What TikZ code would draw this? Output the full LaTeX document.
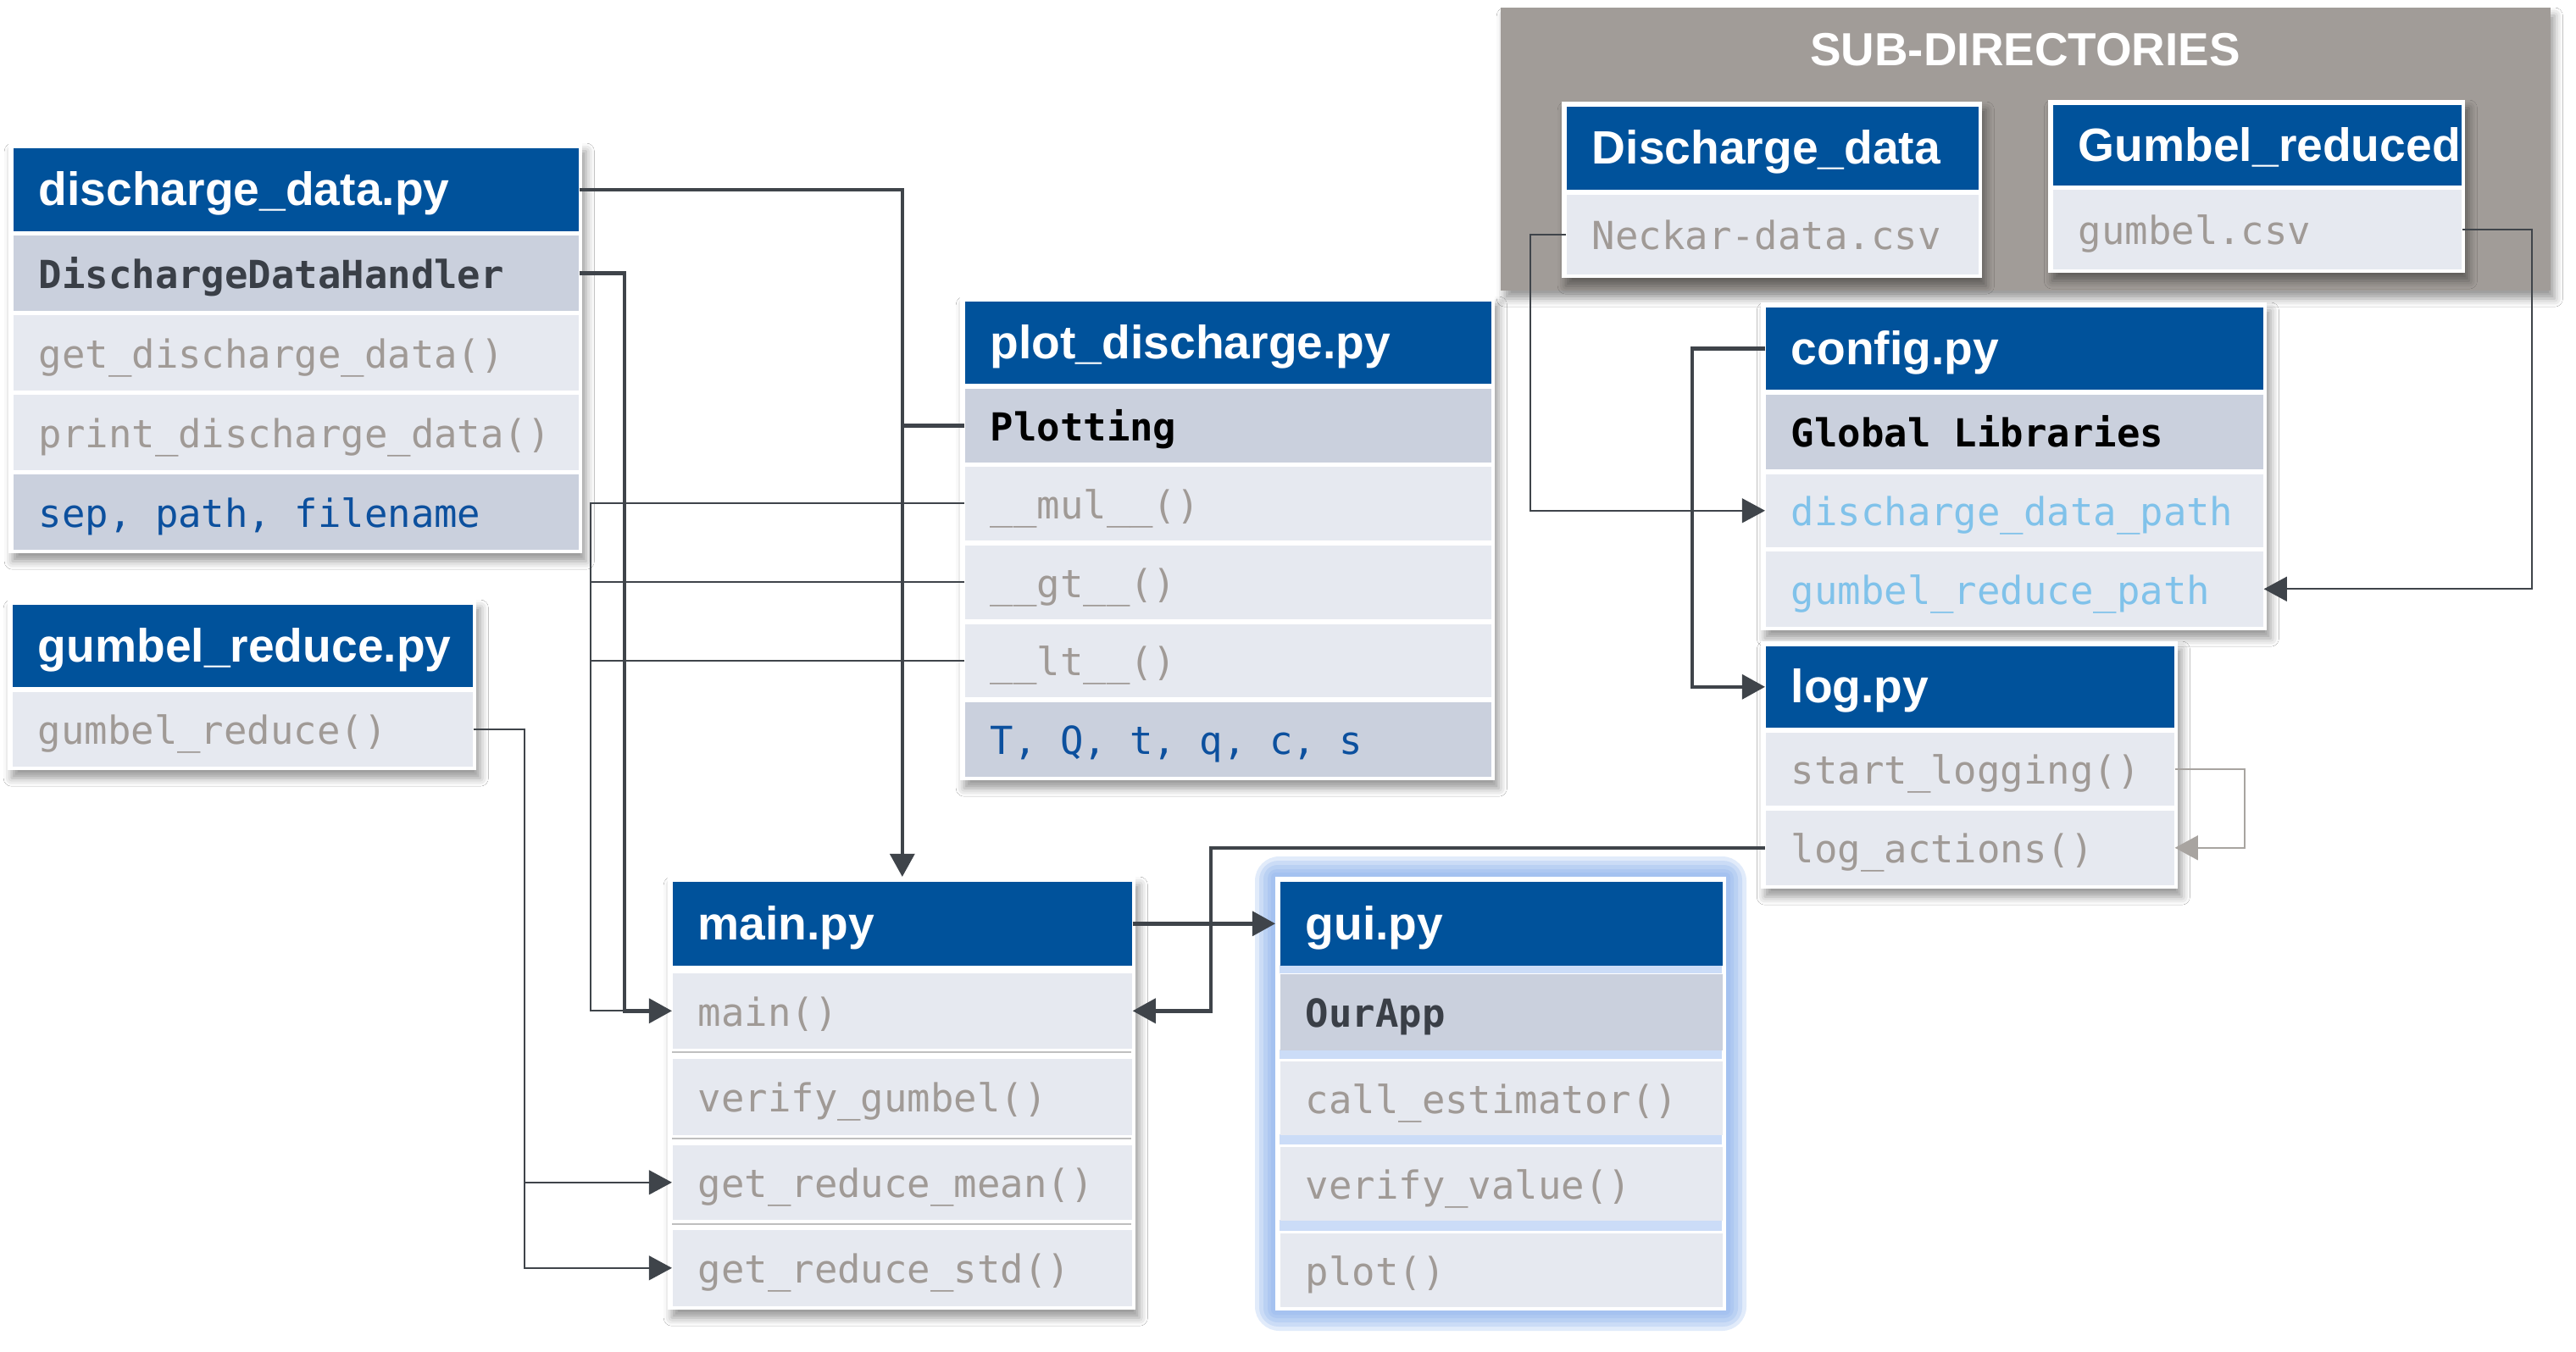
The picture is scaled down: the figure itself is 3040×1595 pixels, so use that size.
\documentclass[tikz,border=0pt]{standalone}
\usepackage{fontspec}
\setmainfont{Liberation Sans}
\newfontfamily\codefont{DejaVu Sans Mono}
\usetikzlibrary{arrows.meta,shadows.blur}

\definecolor{hdr}{RGB}{0,82,155}
\definecolor{rowL}{RGB}{230,233,240}
\definecolor{rowD}{RGB}{202,208,221}
\definecolor{txtG}{RGB}{160,154,150}
\definecolor{txtK}{RGB}{58,63,71}
\definecolor{txtB}{RGB}{12,80,158}
\definecolor{txtC}{RGB}{128,194,234}
\definecolor{subg}{RGB}{161,156,152}
\definecolor{conn}{RGB}{63,68,74}
\definecolor{loopg}{RGB}{168,164,160}
\definecolor{glow}{RGB}{140,178,238}

\newcommand\mkcell[8]{%
  \pgfmathsetmacro\mycw{(#6-#4)*0.25}%
  \pgfmathsetmacro\mych{(#7-#5)*0.25}%
  \node[rectangle, fill=#2, inner sep=0pt, minimum width=\mycw pt, minimum height=\mych pt, anchor=north west] (#1) at (#4,#5) {};
  \node[#3, anchor=west, inner sep=0pt] (#1t) at ([xshift=7.5pt]#1.west) {#8};
}
\newcommand\mkbox[5]{%
  \fill[white, boxshadow] (#2-5,#3-5) rectangle (#4+5,#5+5);
  \coordinate (#1) at (#2,#3);
}

\tikzset{
  htext/.style={text=white, font=\fontsize{13.8}{16}\selectfont\bfseries, text height=9.4pt, text depth=0pt},
  ctext/.style={text=txtG, font=\fontsize{11.4}{14}\selectfont\codefont, text height=9pt, text depth=0pt},
  cbold/.style={ctext, font=\fontsize{11.4}{14}\selectfont\codefont\bfseries},
  boxshadow/.style={blur shadow={shadow xshift=1.2pt, shadow yshift=-2.4pt, shadow blur radius=2.4pt, shadow opacity=40}},
  thickc/.style={draw=conn, line width=1.1pt},
  thinc/.style={draw=conn, line width=0.55pt},
  >={Triangle[length=6.8pt,width=7.2pt]}
}

\begin{document}
\begin{tikzpicture}[x=0.25pt, y=-0.25pt]
\useasboundingbox (0,0) rectangle (3040,1595);
\fill[white] (0,0) rectangle (3040,1595);

% sub-directories group
\fill[subg, boxshadow] (1771,9) rectangle (3010,343);
\node[anchor=base, text=white, font=\fontsize{13.7}{16}\selectfont\bfseries, inner sep=0pt] (subtitle) at (2390,78) {SUB-DIRECTORIES};

% Discharge_data
\mkbox{sdA}{1848}{125}{2334}{323}
\mkcell{sdAH}{hdr}{htext}{1848}{125}{2334}{223}{Discharge\_data}
\mkcell{sdAF}{rowL}{ctext}{1848}{229}{2334}{323}{Neckar-data.csv}

% Gumbel_reduced
\mkbox{sdB}{2422}{123}{2904}{317}
\mkcell{sdBH}{hdr}{htext}{2422}{123}{2904}{218}{Gumbel\_reduced}
\mkcell{sdBF}{rowL}{ctext}{2422}{223}{2904}{317}{gumbel.csv}

% discharge_data.py
\mkbox{dd}{15}{174}{682}{648}
\mkcell{ddH}{hdr}{htext}{15}{174}{682}{272}{discharge\_data.py}
\mkcell{ddC}{rowD}{cbold,text=txtK}{15}{277}{682}{366}{DischargeDataHandler}
\mkcell{ddG}{rowL}{ctext}{15}{371}{682}{460}{get\_discharge\_data()}
\mkcell{ddP}{rowL}{ctext}{15}{465}{682}{554}{print\_discharge\_data()}
\mkcell{ddS}{rowD}{ctext,text=txtB}{15}{559}{682}{648}{sep, path, filename}

% gumbel_reduce.py
\mkbox{gr}{14}{713}{557}{904}
\mkcell{grH}{hdr}{htext}{14}{713}{557}{810}{gumbel\_reduce.py}
\mkcell{grF}{rowL}{ctext}{14}{816}{557}{904}{gumbel\_reduce()}

% plot_discharge.py
\mkbox{pd}{1138}{355}{1759}{916}
\mkcell{pdH}{hdr}{htext}{1138}{355}{1759}{452}{plot\_discharge.py}
\mkcell{pdC}{rowD}{cbold,text=black}{1138}{458}{1759}{545}{Plotting}
\mkcell{pdM}{rowL}{ctext}{1138}{550}{1759}{637}{\_\_mul\_\_()}
\mkcell{pdGt}{rowL}{ctext}{1138}{643}{1759}{730}{\_\_gt\_\_()}
\mkcell{pdLt}{rowL}{ctext}{1138}{736}{1759}{822}{\_\_lt\_\_()}
\mkcell{pdV}{rowD}{ctext,text=txtB}{1138}{828}{1759}{916}{T, Q, t, q, c, s}

% config.py
\mkbox{cf}{2083}{362}{2670}{739}
\mkcell{cfH}{hdr}{htext}{2083}{362}{2670}{459}{config.py}
\mkcell{cfG}{rowD}{cbold,text=black}{2083}{465}{2670}{553}{Global Libraries}
\mkcell{cfD}{rowL}{ctext,text=txtC}{2083}{559}{2670}{645}{discharge\_data\_path}
\mkcell{cfU}{rowL}{ctext,text=txtC}{2083}{650}{2670}{739}{gumbel\_reduce\_path}

% log.py
\mkbox{lg}{2083}{762}{2565}{1044}
\mkcell{lgH}{hdr}{htext}{2083}{762}{2565}{858}{log.py}
\mkcell{lgS}{rowL}{ctext}{2083}{864}{2565}{950}{start\_logging()}
\mkcell{lgA}{rowL}{ctext}{2083}{956}{2565}{1044}{log\_actions()}

% main.py
\mkbox{mn}{793}{1040}{1335}{1541}
\mkcell{mnH}{hdr}{htext}{793}{1040}{1335}{1139}{main.py}
\mkcell{mnM}{rowL}{ctext}{793}{1148}{1335}{1237}{main()}
\mkcell{mnV}{rowL}{ctext}{793}{1249}{1335}{1339}{verify\_gumbel()}
\mkcell{mnR}{rowL}{ctext}{793}{1351}{1335}{1439}{get\_reduce\_mean()}
\mkcell{mnS}{rowL}{ctext}{793}{1451}{1335}{1541}{get\_reduce\_std()}
\foreach \yy in {1242,1344,1445}{
  \draw[black!25, line width=0.6pt] (793,\yy) -- (1335,\yy);
}

% gui.py with glow
\foreach \d in {24,19,14,9,5}{
  \fill[glow, opacity=0.26, rounded corners=\d*0.3pt] (1505-\d,1035-\d) rectangle (2037+\d,1547+\d);
}
\fill[white] (1505,1035) rectangle (2037,1547);
\fill[glow!45] (1510,1139) rectangle (2032,1149);
\fill[glow!45] (1510,1239) rectangle (2032,1250);
\fill[glow!45] (1510,1339) rectangle (2032,1351);
\fill[glow!45] (1510,1440) rectangle (2032,1453);
\coordinate (gu) at (1510,1040);
\mkcell{guH}{hdr}{htext}{1510}{1040}{2032}{1139}{gui.py}
\mkcell{guC}{rowD}{cbold,text=txtK}{1510}{1149}{2032}{1239}{OurApp}
\mkcell{guE}{rowL}{ctext}{1510}{1252}{2032}{1339}{call\_estimator()}
\mkcell{guV}{rowL}{ctext}{1510}{1353}{2032}{1440}{verify\_value()}
\mkcell{guP}{rowL}{ctext}{1510}{1455}{2032}{1542}{plot()}

% bend coordinates
\coordinate (xA) at (737,0);
\coordinate (xB) at (697,0);
\coordinate (xC) at (619,0);
\coordinate (xD) at (1429,0);
\coordinate (xE) at (1997,0);
\coordinate (xF) at (1806,0);
\coordinate (xG) at (2988,0);
\coordinate (xH) at (2649,0);
\coordinate (mnTop) at ([yshift=1.25pt]mnH.north);

% connectors
\draw[thickc, ->] (ddH.east) -| (mnTop);
\draw[thickc] (pdC.west) -- (pdC.west -| mnTop);

\draw[thinc] (pdM.west) -- (pdM.west -| xB) -- (xB |- mnM.west) -- (xA |- mnM.west);
\draw[thinc] (pdGt.west) -- (pdGt.west -| xB);
\draw[thinc] (pdLt.west) -- (pdLt.west -| xB);
\draw[thickc, ->] (ddC.east) -- (ddC.east -| xA) -- (xA |- mnM.west) -- (mnM.west);

\draw[thinc, ->] (grF.east) -- (grF.east -| xC) -- (xC |- mnS.west) -- (mnS.west);
\draw[thinc, ->] (xC |- mnR.west) -- (mnR.west);

\draw[thickc, ->] (mnH.east) -- ([xshift=-1.25pt]guH.west);
\draw[thickc, ->] (lgA.west) -- (lgA.west -| xD) -- (xD |- mnM.east) -- (mnM.east);

\draw[thickc, ->] (cfH.west) -- (cfH.west -| xE) -- (xE |- lgH.west) -- (lgH.west);
\draw[thinc, ->] (sdAF.west) -- (sdAF.west -| xF) -- (xF |- cfD.west) -- (cfD.west);
\draw[thinc, ->] (sdBF.east) -- (sdBF.east -| xG) -- (xG |- cfU.east) -- (cfU.east);
\draw[draw=loopg, line width=0.55pt, ->] (lgS.east) -- (lgS.east -| xH) -- (xH |- lgA.east) -- (lgA.east);
\end{tikzpicture}
\end{document}
